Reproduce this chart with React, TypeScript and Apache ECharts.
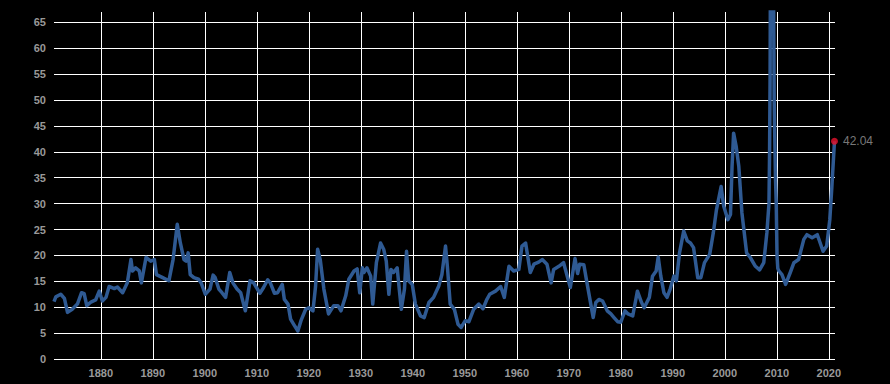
import React, { useEffect, useRef } from "react";
import * as echarts from "echarts";

const years: number[] = [
  1871.0, 1871.35, 1872.3, 1873.0, 1873.6, 1874.5, 1875.5, 1876.3, 1876.8, 1877.3,
  1878.1, 1879.0, 1879.7, 1880.3, 1881.0, 1881.6, 1882.6, 1883.2, 1884.2, 1885.1,
  1885.8, 1886.1, 1886.7, 1887.4, 1887.8, 1888.7, 1889.6, 1890.3, 1890.7, 1891.9,
  1893.1, 1893.9, 1894.7, 1895.3, 1896.0, 1896.4, 1896.8, 1897.2, 1897.9, 1898.8,
  1899.3, 1900.1, 1901.0, 1901.6, 1902.0, 1902.7, 1903.3, 1904.0, 1904.8, 1905.4,
  1906.2, 1906.9, 1907.8, 1908.7, 1909.4, 1910.6, 1911.3, 1912.1, 1912.6, 1913.4,
  1914.0, 1914.9, 1915.3, 1916.0, 1916.5, 1917.1, 1917.9, 1918.5, 1919.4, 1920.0,
  1920.8, 1921.3, 1921.7, 1922.2, 1922.9, 1923.8, 1924.8, 1925.6, 1926.2, 1927.1,
  1927.7, 1928.7, 1929.3, 1929.8, 1930.3, 1930.6, 1931.2, 1931.9, 1932.3, 1933.0,
  1933.8, 1934.4, 1934.9, 1935.4, 1935.8, 1936.3, 1937.0, 1937.4, 1937.8, 1938.4,
  1938.8, 1939.2, 1939.9, 1940.5, 1941.5, 1942.2, 1943.1, 1944.0, 1945.0, 1945.6,
  1946.3, 1946.7, 1947.2, 1948.0, 1948.7, 1949.3, 1950.1, 1950.8, 1951.7, 1952.7,
  1953.5, 1954.2, 1954.8, 1955.9, 1956.9, 1957.6, 1958.5, 1959.4, 1960.4, 1961.0,
  1961.7, 1962.6, 1963.3, 1964.2, 1964.9, 1965.8, 1966.6, 1967.1, 1968.1, 1969.0,
  1970.3, 1971.2, 1971.7, 1972.1, 1972.9, 1973.5, 1974.7, 1975.2, 1975.8, 1976.5,
  1977.4, 1978.1, 1978.7, 1979.4, 1980.0, 1980.8, 1981.4, 1982.3, 1983.2, 1984.0,
  1984.5, 1985.5, 1986.1, 1986.8, 1987.2, 1987.7, 1988.3, 1988.9, 1989.5, 1990.2,
  1990.7, 1991.3, 1992.1, 1992.8, 1993.4, 1994.0, 1994.8, 1995.4, 1996.1, 1997.1,
  1997.8, 1998.4, 1999.3, 1999.8, 2000.6, 2001.1, 2001.4, 2001.7, 2002.2, 2002.7,
  2003.3, 2004.2, 2004.9, 2005.9, 2006.7, 2007.5, 2008.1, 2008.5, 2008.62, 2008.72,
  2008.8, 2009.05, 2009.3, 2009.5, 2009.75, 2009.9, 2010.05, 2010.2, 2010.4, 2011.0,
  2011.7, 2012.6, 2013.3, 2014.2, 2015.2, 2015.8, 2016.8, 2017.8, 2018.9, 2019.6,
  2020.2, 2020.6, 2021.1,
];

const peValues: number[] = [
  11.1, 12.0, 12.5, 11.7, 9.0, 9.6, 10.6, 12.8, 12.6, 10.3,
  11.0, 11.4, 13.1, 11.2, 11.9, 14.0, 13.6, 13.9, 12.8, 14.7,
  19.2, 17.0, 17.6, 17.0, 14.7, 19.6, 18.9, 19.2, 16.3, 15.7,
  15.1, 19.2, 26.0, 22.4, 19.2, 18.9, 20.5, 16.3, 15.7, 15.4,
  14.7, 12.5, 13.5, 16.2, 15.7, 13.5, 12.8, 11.9, 16.7, 14.7,
  13.5, 12.8, 9.3, 15.1, 14.7, 12.7, 13.8, 15.3, 14.7, 12.7,
  12.8, 14.4, 11.5, 10.6, 7.7, 6.7, 5.4, 7.4, 9.6, 9.9,
  9.3, 14.0, 21.2, 19.2, 13.5, 8.7, 10.3, 10.3, 9.3, 12.2,
  15.4, 17.0, 17.4, 12.8, 17.6, 16.7, 17.6, 16.0, 10.6, 18.6,
  22.4, 21.2, 18.9, 12.5, 17.3, 16.7, 17.6, 13.5, 9.6, 13.5,
  20.8, 15.1, 14.4, 10.6, 8.3, 8.0, 10.9, 11.9, 14.1, 16.3,
  21.8, 17.3, 10.6, 9.6, 6.7, 6.1, 7.4, 7.2, 9.6, 10.6,
  9.7, 11.4, 12.5, 13.1, 14.0, 11.9, 17.9, 17.0, 17.3, 21.8,
  22.4, 16.7, 18.3, 18.7, 19.2, 18.3, 14.7, 17.3, 17.9, 18.6,
  13.8, 19.4, 16.5, 18.3, 18.2, 14.7, 8.0, 10.9, 11.5, 11.2,
  9.3, 8.7, 8.0, 7.2, 7.1, 9.3, 8.7, 8.3, 13.1, 10.9,
  9.9, 11.9, 16.0, 17.0, 19.7, 16.0, 12.8, 11.9, 13.5, 16.0,
  15.1, 20.5, 24.7, 22.8, 22.4, 21.5, 15.7, 15.7, 18.6, 20.2,
  24.4, 28.8, 33.3, 29.5, 26.9, 27.9, 37.2, 43.6, 41.0, 37.2,
  28.2, 20.5, 19.6, 17.9, 17.2, 18.6, 24.4, 30.0, 40.0, 55.0,
  80.0, 123.7, 85.0, 50.0, 35.0, 30.0, 20.0, 17.5, 17.0, 16.3,
  14.4, 16.7, 18.6, 19.2, 23.1, 24.0, 23.4, 24.0, 20.8, 21.8,
  26.9, 33.3, 42.04,
];

const xTickYears: number[] = [1880, 1890, 1900, 1910, 1920, 1930, 1940, 1950, 1960, 1970, 1980, 1990, 2000, 2010, 2020];
const yTickValues: number[] = [0, 5, 10, 15, 20, 25, 30, 35, 40, 45, 50, 55, 60, 65];

export default function App() {
  const ref = useRef<HTMLDivElement>(null);
  useEffect(() => {
    document.body.style.margin = "0";
    document.body.style.background = "#000";
    if (!ref.current) return;
    const chart = echarts.init(ref.current, undefined, { renderer: "svg" });
    const lineData = years.map((y, i) => [y, peValues[i]]);
    const last = lineData[lineData.length - 1];
    const labelStyle = {
      color: "#999",
      fontFamily: "Liberation Sans, Arial, sans-serif",
      fontWeight: "bold" as const,
      fontSize: 11,
    };
    chart.setOption({
      animation: false,
      backgroundColor: "#000",
      grid: { left: 54, right: 55, top: 12, bottom: 25, containLabel: false },
      xAxis: {
        type: "value",
        min: 1871,
        max: 2021.2,
        axisLine: { show: false },
        axisTick: { show: false, customValues: xTickYears },
        axisLabel: { ...labelStyle, margin: 8, customValues: xTickYears, formatter: (v: number) => String(v) },
        splitLine: { show: true, lineStyle: { color: "#ffffff", width: 1 } },
      },
      yAxis: {
        type: "value",
        min: 0,
        max: 67,
        axisLine: { show: false },
        axisTick: { show: false, customValues: yTickValues },
        axisLabel: { ...labelStyle, margin: 8, customValues: yTickValues },
        splitLine: { show: true, lineStyle: { color: "#ffffff", width: 1 } },
      },
      series: [
        {
          type: "line",
          data: lineData,
          showSymbol: false,
          symbol: "none",
          clip: true,
          lineStyle: { color: "#2f5a93", width: 3.5, join: "round" },
          z: 2,
        },
        {
          type: "scatter",
          data: [last],
          symbol: "circle",
          symbolSize: 7,
          itemStyle: { color: "#e8112d" },
          clip: false,
          z: 3,
          label: {
            show: true,
            position: "right",
            distance: 5,
            color: "#999",
            fontFamily: "Liberation Sans, Arial, sans-serif",
            fontSize: 12,
            formatter: (p: any) => Number(p.value[1]).toFixed(2),
          },
        },
      ],
    });
    return () => chart.dispose();
  }, []);
  return <div ref={ref} style={{ width: 890, height: 384 }} />;
}
